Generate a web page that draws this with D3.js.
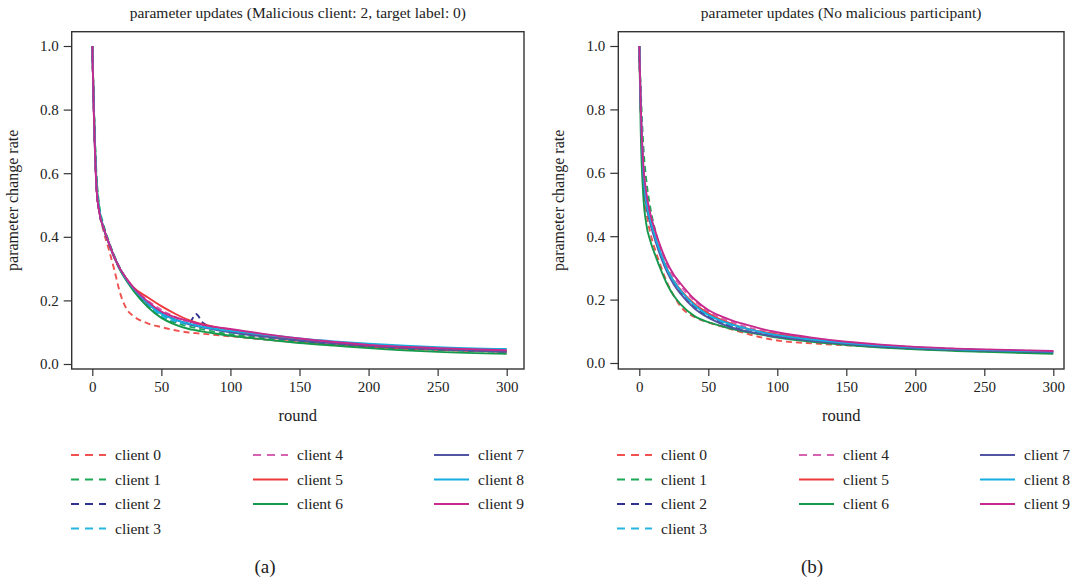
<!DOCTYPE html>
<html>
<head>
<meta charset="utf-8">
<script src="https://cdn.jsdelivr.net/npm/d3@7"></script>
<style>
  body { margin: 0; background: #fff; }
  text { font-family: "Liberation Serif", "DejaVu Serif", serif; fill: #222; }
</style>
</head>
<body>
<div class="container"></div>
<script>
// rounds at which the curves were sampled
const rounds = [0, 1, 3, 5, 8, 12, 16, 20, 25, 30, 40, 50, 60, 70, 75, 80, 90, 100, 125, 150, 175, 200, 250, 300];
const clientNames = ['client 0', 'client 1', 'client 2', 'client 3', 'client 4',
                     'client 5', 'client 6', 'client 7', 'client 8', 'client 9'];
const xTicks = [0, 50, 100, 150, 200, 250, 300];
const yTicks = [0.0, 0.2, 0.4, 0.6, 0.8, 1.0];
const titles = ['parameter updates (Malicious client: 2, target label: 0)',
                'parameter updates (No malicious participant)'];
const captions = ['(a)', '(b)'];

// (a) malicious client 2
const valuesA = [
  [1, 0.82, 0.56, 0.48, 0.42, 0.36, 0.295, 0.225, 0.172, 0.150, 0.128, 0.116, 0.106, 0.099, 0.097, 0.095, 0.091, 0.087, 0.077, 0.068, 0.060, 0.053, 0.044, 0.038],
  [1, 0.84, 0.60, 0.50, 0.44, 0.385, 0.34, 0.302, 0.265, 0.234, 0.185, 0.150, 0.130, 0.118, 0.113, 0.109, 0.100, 0.094, 0.080, 0.070, 0.060, 0.053, 0.044, 0.037],
  [1, 0.82, 0.56, 0.48, 0.43, 0.38, 0.335, 0.298, 0.264, 0.236, 0.190, 0.155, 0.135, 0.128, 0.157, 0.130, 0.112, 0.102, 0.086, 0.074, 0.064, 0.056, 0.046, 0.040],
  [1, 0.82, 0.57, 0.48, 0.43, 0.38, 0.335, 0.298, 0.262, 0.234, 0.188, 0.152, 0.135, 0.124, 0.119, 0.115, 0.108, 0.101, 0.087, 0.076, 0.067, 0.059, 0.049, 0.042],
  [1, 0.82, 0.56, 0.48, 0.43, 0.38, 0.335, 0.300, 0.266, 0.238, 0.200, 0.170, 0.148, 0.130, 0.125, 0.120, 0.112, 0.105, 0.089, 0.077, 0.067, 0.059, 0.048, 0.040],
  [1, 0.82, 0.56, 0.48, 0.43, 0.38, 0.335, 0.300, 0.266, 0.240, 0.210, 0.182, 0.158, 0.138, 0.131, 0.125, 0.115, 0.107, 0.090, 0.077, 0.066, 0.057, 0.047, 0.040],
  [1, 0.83, 0.58, 0.49, 0.43, 0.38, 0.335, 0.296, 0.260, 0.229, 0.180, 0.145, 0.124, 0.110, 0.106, 0.102, 0.095, 0.089, 0.077, 0.066, 0.058, 0.050, 0.038, 0.032],
  [1, 0.81, 0.56, 0.48, 0.43, 0.38, 0.335, 0.300, 0.265, 0.236, 0.190, 0.160, 0.140, 0.125, 0.120, 0.115, 0.107, 0.100, 0.086, 0.074, 0.065, 0.057, 0.046, 0.038],
  [1, 0.82, 0.57, 0.49, 0.43, 0.38, 0.335, 0.300, 0.264, 0.237, 0.192, 0.158, 0.139, 0.127, 0.122, 0.117, 0.110, 0.104, 0.092, 0.080, 0.071, 0.064, 0.053, 0.047],
  [1, 0.81, 0.56, 0.48, 0.43, 0.38, 0.335, 0.300, 0.267, 0.239, 0.197, 0.165, 0.147, 0.135, 0.129, 0.123, 0.116, 0.110, 0.094, 0.080, 0.069, 0.060, 0.050, 0.043]
];

// (b) no malicious participant
const valuesB = [
  [1, 0.80, 0.57, 0.48, 0.41, 0.35, 0.30, 0.255, 0.212, 0.178, 0.145, 0.128, 0.115, 0.102, 0.096, 0.090, 0.079, 0.071, 0.062, 0.056, 0.050, 0.045, 0.039, 0.034],
  [1, 0.87, 0.68, 0.58, 0.49, 0.41, 0.35, 0.300, 0.258, 0.226, 0.178, 0.148, 0.127, 0.111, 0.105, 0.099, 0.090, 0.083, 0.069, 0.059, 0.051, 0.045, 0.037, 0.031],
  [1, 0.82, 0.60, 0.51, 0.45, 0.39, 0.34, 0.295, 0.255, 0.225, 0.178, 0.147, 0.126, 0.111, 0.105, 0.100, 0.092, 0.085, 0.071, 0.061, 0.053, 0.047, 0.040, 0.035],
  [1, 0.83, 0.61, 0.52, 0.46, 0.395, 0.345, 0.300, 0.260, 0.229, 0.182, 0.151, 0.130, 0.115, 0.108, 0.102, 0.094, 0.087, 0.073, 0.062, 0.054, 0.048, 0.041, 0.036],
  [1, 0.82, 0.61, 0.53, 0.47, 0.405, 0.355, 0.312, 0.272, 0.243, 0.196, 0.163, 0.141, 0.125, 0.118, 0.111, 0.101, 0.093, 0.077, 0.065, 0.056, 0.050, 0.042, 0.037],
  [1, 0.81, 0.59, 0.51, 0.45, 0.39, 0.34, 0.298, 0.258, 0.230, 0.186, 0.157, 0.135, 0.119, 0.112, 0.106, 0.097, 0.090, 0.075, 0.064, 0.055, 0.048, 0.040, 0.035],
  [1, 0.74, 0.52, 0.44, 0.385, 0.335, 0.29, 0.250, 0.212, 0.185, 0.148, 0.129, 0.116, 0.105, 0.100, 0.096, 0.088, 0.080, 0.067, 0.057, 0.049, 0.043, 0.035, 0.029],
  [1, 0.81, 0.59, 0.50, 0.44, 0.38, 0.33, 0.288, 0.248, 0.218, 0.172, 0.143, 0.123, 0.108, 0.103, 0.098, 0.090, 0.083, 0.070, 0.060, 0.052, 0.046, 0.039, 0.034],
  [1, 0.82, 0.60, 0.51, 0.45, 0.39, 0.34, 0.296, 0.257, 0.228, 0.182, 0.152, 0.132, 0.118, 0.112, 0.106, 0.096, 0.088, 0.074, 0.063, 0.055, 0.049, 0.041, 0.036],
  [1, 0.82, 0.62, 0.54, 0.47, 0.41, 0.36, 0.318, 0.278, 0.250, 0.201, 0.167, 0.146, 0.130, 0.124, 0.118, 0.106, 0.097, 0.080, 0.067, 0.058, 0.051, 0.043, 0.038]
];

const colors = ['#f0524f', '#1daa58', '#2e3192', '#27b6e2', '#d862b2',
                '#ee3a3a', '#15994c', '#5153a3', '#16aee0', '#c8298d'];
const dashed = [true, true, true, true, true, false, false, false, false, false];

const panels = [
  { values: valuesA, left: 71.7, right: 524, top: 31.7, bottom: 369, x0: 92.3, x300: 506.7, y0: 364, y1: 46, legendX: 71 },
  { values: valuesB, left: 618.3, right: 1064, top: 31.7, bottom: 369, x0: 639.3, x300: 1053.3, y0: 363, y1: 46, legendX: 617 }
];

var display = function () {
  var svg = d3.select('.container').append('svg')
    .attr('width', 1073)
    .attr('height', 582);

  panels.forEach(function (p, i) { drawPanel(svg, p, i); });
};

var drawPanel = function (svg, p, i) {
  // scales are calibrated on two ticks, then stretched to the frame
  var xs = d3.scaleLinear().domain([0, 300]).range([p.x0, p.x300]);
  var ys = d3.scaleLinear().domain([0, 1]).range([p.y0, p.y1]);
  var x = d3.scaleLinear().domain([xs.invert(p.left), xs.invert(p.right)]).range([p.left, p.right]);
  var y = d3.scaleLinear().domain([ys.invert(p.bottom), ys.invert(p.top)]).range([p.bottom, p.top]);

  var g = svg.append('g');

  var line = d3.line()
    .x(function (d) { return x(d[0]); })
    .y(function (d) { return y(d[1]); })
    .curve(d3.curveMonotoneX);

  p.values.forEach(function (vals, c) {
    g.append('path')
      .datum(rounds.map(function (r, k) { return [r, vals[k]]; }))
      .attr('d', line)
      .attr('fill', 'none')
      .attr('stroke', colors[c])
      .attr('stroke-width', 1.9)
      .attr('stroke-dasharray', dashed[c] ? '6,4' : null);
  });

  // frame
  g.append('rect')
    .attr('x', p.left)
    .attr('y', p.top)
    .attr('width', p.right - p.left)
    .attr('height', p.bottom - p.top)
    .attr('fill', 'none')
    .attr('stroke', '#333')
    .attr('stroke-width', 1.4);

  var xAxis = g.append('g')
    .attr('transform', 'translate(0,' + p.bottom + ')')
    .call(d3.axisBottom(x).tickValues(xTicks).tickSize(7).tickPadding(5).tickFormat(d3.format('d')));
  var yAxis = g.append('g')
    .attr('transform', 'translate(' + p.left + ',0)')
    .call(d3.axisLeft(y).tickValues(yTicks).tickSize(8).tickPadding(5).tickFormat(d3.format('.1f')));
  [xAxis, yAxis].forEach(function (a) {
    a.select('.domain').remove();
    a.selectAll('line').attr('stroke', '#333').attr('stroke-width', 1.2);
    a.selectAll('text').style('font-family', '"Liberation Serif", serif').style('font-size', '15px').attr('fill', '#222');
  });

  var cx = (p.left + p.right) / 2;
  g.append('text')
    .attr('x', cx).attr('y', 18)
    .attr('text-anchor', 'middle')
    .style('font-size', '15.5px')
    .text(titles[i]);

  g.append('text')
    .attr('x', cx).attr('y', 421)
    .attr('text-anchor', 'middle')
    .style('font-size', '16.5px')
    .text('round');

  g.append('text')
    .attr('transform', 'translate(' + (p.left - 54) + ',' + ((p.top + p.bottom) / 2) + ') rotate(-90)')
    .attr('text-anchor', 'middle')
    .style('font-size', '16px')
    .text('parameter change rate');

  // legend: 4 rows in the first column, 3 in the others
  var colX = [0, 182, 363];
  var rowY = [455, 479.5, 504, 528.5];
  clientNames.forEach(function (name, c) {
    var col = c < 4 ? 0 : (c < 7 ? 1 : 2);
    var row = c < 4 ? c : (c < 7 ? c - 4 : c - 7);
    var lx = p.legendX + colX[col];
    var ly = rowY[row];
    g.append('line')
      .attr('x1', lx).attr('x2', lx + 35)
      .attr('y1', ly).attr('y2', ly)
      .attr('stroke', colors[c])
      .attr('stroke-width', 1.8)
      .attr('stroke-dasharray', dashed[c] ? '8,6' : null);
    g.append('text')
      .attr('x', lx + 44).attr('y', ly + 5)
      .style('font-size', '15.5px')
      .text(name);
  });

  g.append('text')
    .attr('x', i === 0 ? 265 : 812).attr('y', 573)
    .attr('text-anchor', 'middle')
    .style('font-size', '19px')
    .text(captions[i]);
};

window.onload = display;
</script>
</body>
</html>
